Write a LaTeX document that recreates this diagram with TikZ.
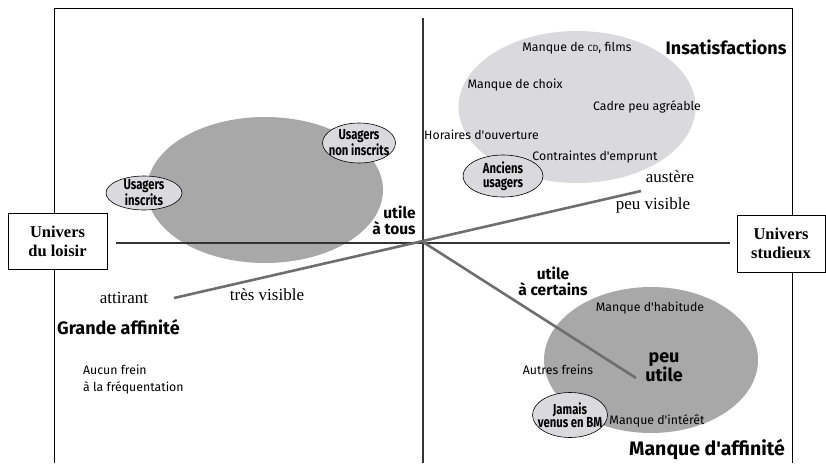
\documentclass[tikz,border=0pt]{standalone}
\usepackage{fontspec}
\setmainfont{Liberation Serif}
\newfontfamily\din{Fira Sans}
\newfontfamily\dincond[FakeStretch=0.78]{Fira Sans}
\usetikzlibrary{shapes.geometric}
\definecolor{darkfill}{HTML}{A8A8A8}
\definecolor{lightfill}{HTML}{D9D9DE}
\definecolor{linegray}{HTML}{6E6E6E}
\tikzset{
  frameline/.style={draw=black,line width=1pt},
  axisline/.style={draw=black!80,line width=1.1pt},
  diagline/.style={draw=linegray,line width=2.6pt},
  bigdark/.style={ellipse,fill=darkfill,draw=none,inner sep=0pt},
  biglight/.style={ellipse,fill=lightfill,draw=none,inner sep=0pt},
  smallell/.style={ellipse,fill=lightfill,draw=black,line width=0.6pt,inner sep=0pt},
  elltxt/.style={font=\dincond\bfseries\fontsize{14.5}{13.5}\selectfont,align=center,inner sep=0pt},
  universbox/.style={rectangle,draw=black,line width=1pt,fill=white,align=center,
    font=\bfseries\fontsize{16.5}{19}\selectfont,inner sep=0pt},
  smalltxt/.style={font=\din\fontsize{12.3}{17}\selectfont,inner sep=0pt},
  boldtxt/.style={font=\din\bfseries\fontsize{15.5}{16}\selectfont,inner sep=0pt,align=center},
  bigbold/.style={font=\din\bfseries\fontsize{18}{19}\selectfont,inner sep=0pt,align=center},
  hugebold/.style={font=\din\bfseries\fontsize{19.5}{20}\selectfont,inner sep=0pt,align=center},
  serif/.style={font=\fontsize{17}{19}\selectfont,inner sep=0pt},
}
\begin{document}
\begin{tikzpicture}[x=1pt,y=-1pt]
\useasboundingbox (0,0) rectangle (826,463);
% big ellipses
\node[bigdark,minimum width=236,minimum height=146] (leftell) at (265,190) {};
\node[biglight,minimum width=237,minimum height=152] (topell) at (577,107) {};
\node[bigdark,minimum width=214,minimum height=146] (botell) at (651,360) {};
% boxes
\node[universbox,minimum width=99,minimum height=56] (loisir) at (57.5,241) {Univers\\du loisir};
\node[universbox,minimum width=88,minimum height=57] (studieux) at (781,243.5) {Univers\\studieux};
% frame
\coordinate (tl) at (54,8);
\coordinate (tr) at (792,8);
\coordinate (bl) at (54,463);
\coordinate (br) at (792,463);
\draw[frameline] (loisir.north -| tl) -- (tl) -- (tr) -- (studieux.north -| tr);
\draw[frameline] (loisir.south -| bl) -- (bl);
\draw[frameline] (studieux.south -| br) -- (br);
% axes
\coordinate (c) at (423,242);
\coordinate (hl) at (116,243);
\coordinate (hr) at (730,243);
\coordinate (vt) at (423,18);
\coordinate (vb) at (423,463);
\draw[axisline] (hl) -- (hr);
\draw[axisline] (vt) -- (vb);
% diagonals
\coordinate (d1a) at (174,298);
\coordinate (d1b) at (641,191);
\coordinate (d2b) at (636,378);
\draw[diagline] (d1a) -- (d1b);
\draw[diagline] (c) -- (d2b);
% small ellipses
\node[smallell,minimum width=76,minimum height=34] (inscrits) at (144,193) {};
\node[elltxt] (inscritsT) at (inscrits.center) {Usagers\\inscrits};
\node[smallell,minimum width=73,minimum height=40] (noninscrits) at (359,143) {};
\node[elltxt] (noninscritsT) at (noninscrits.center) {Usagers\\non inscrits};
\node[smallell,minimum width=80,minimum height=42] (anciens) at (503,176) {};
\node[elltxt] (anciensT) at (anciens.center) {Anciens\\usagers};
\node[smallell,minimum width=75,minimum height=45] (jamais) at (570,415) {};
\node[elltxt] (jamaisT) at (jamais.center) {Jamais\\venus en BM};
% texts top right
\node[bigbold] (insat) at (726,47) {Insatisfactions};
\node[smalltxt] (cd) at (577,48) {Manque de {\fontsize{9}{10}\selectfont CD}, films};
\node[smalltxt] (choix) at (515,85) {Manque de choix};
\node[smalltxt] (cadre) at (647,107) {Cadre peu agréable};
\node[smalltxt,anchor=west] (horaires) at (424,135) {Horaires d'ouverture};
\node[smalltxt] (contraintes) at (595,157) {Contraintes d'emprunt};
\node[serif] (austere) at (670,177) {austère};
\node[serif] (peuvis) at (653,205) {peu visible};
% center
\node[boldtxt,align=right] (tous) at (394,220) {utile\\à tous};
% left bottom
\node[serif] (attirant) at (124,298) {attirant};
\node[serif] (tresvis) at (267,295) {très visible};
\node[bigbold,anchor=west] (grande) at (57,327) {Grande affinité};
\node[smalltxt,anchor=west,align=left] (aucun) at (83,380) {Aucun frein\\à la fréquentation};
% bottom right
\node[boldtxt] (certains) at (553,281) {utile\\à certains};
\node[smalltxt] (habitude) at (650,308) {Manque d'habitude};
\node[bigbold] (peuutile) at (664,367) {peu\\utile};
\node[smalltxt] (autres) at (558,370) {Autres freins};
\node[smalltxt] (interet) at (657,421) {Manque d'intérêt};
\node[hugebold] (affinite) at (707,450) {Manque d'affinité};
\end{tikzpicture}
\end{document}
